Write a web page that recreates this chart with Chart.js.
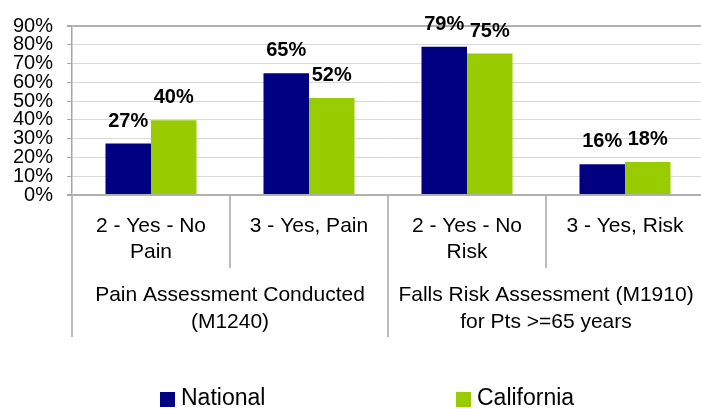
<!DOCTYPE html>
<html>
<head>
<meta charset="utf-8">
<script src="https://cdn.jsdelivr.net/npm/chart.js@4/dist/chart.umd.min.js"></script>
<style>
  html, body { margin: 0; padding: 0; background: #fff; overflow: hidden; }
</style>
</head>
<body>
<canvas id="myChart" width="704" height="409"></canvas>
<script>
// sub categories (line-broken as in the picture) and their groups
const subLabels = [
  ['2 - Yes - No', 'Pain'],
  ['3 - Yes, Pain'],
  ['2 - Yes - No', 'Risk'],
  ['3 - Yes, Risk']
];
const groupLabels = [
  ['Pain Assessment Conducted', '(M1240)'],
  ['Falls Risk Assessment (M1910)', 'for Pts >=65 years']
];
const seriesNames = ['National', 'California'];
const seriesColors = ['#000080', '#99cc00'];
const nationalValues = [27.4, 64.9, 78.9, 16.4];
const californiaValues = [39.8, 51.6, 75.3, 17.6];
const yTicks = [0, 10, 20, 30, 40, 50, 60, 70, 80, 90];

const FONT = '"Liberation Sans", Arial, sans-serif';
const LINE = '#a6a6a6';

// draws the value labels, the two level category axis and the legend
const extras = {
  id: 'extras',
  afterDatasetsDraw(chart) {
    const ctx = chart.ctx;
    const area = chart.chartArea;
    const w = (area.right - area.left) / subLabels.length;

    // value labels
    ctx.save();
    ctx.fillStyle = '#000';
    ctx.font = 'bold 20px ' + FONT;
    ctx.textAlign = 'center';
    ctx.textBaseline = 'alphabetic';
    chart.data.datasets.forEach((ds, di) => {
      chart.getDatasetMeta(di).data.forEach((bar, i) => {
        ctx.fillText(Math.round(ds.data[i]) + '%', bar.x, bar.y - 17);
      });
    });
    ctx.restore();

    // separators
    ctx.save();
    ctx.strokeStyle = LINE;
    ctx.lineWidth = 1.5;
    for (let i = 0; i <= subLabels.length; i++) {
      const x = Math.round(area.left + i * w);
      const bottom = (i % 2 === 0) ? 337 : 268;
      ctx.beginPath();
      ctx.moveTo(x, area.bottom);
      ctx.lineTo(x, bottom);
      ctx.stroke();
    }
    ctx.restore();

    // category text
    ctx.save();
    ctx.fillStyle = '#000';
    ctx.font = '21px ' + FONT;
    ctx.textAlign = 'center';
    ctx.textBaseline = 'middle';
    subLabels.forEach((lines, i) => {
      const cx = area.left + (i + 0.5) * w;
      lines.forEach((t, k) => ctx.fillText(t, cx, 226 + k * 26));
    });
    groupLabels.forEach((lines, g) => {
      const cx = area.left + (2 * g + 1) * w;
      lines.forEach((t, k) => ctx.fillText(t, cx, 295 + k * 27));
    });
    ctx.restore();

    // legend
    ctx.save();
    ctx.font = '23px ' + FONT;
    ctx.textBaseline = 'middle';
    const legendX = [160, 456];
    seriesNames.forEach((name, i) => {
      ctx.fillStyle = seriesColors[i];
      ctx.fillRect(legendX[i], 392, 15, 15);
      ctx.fillStyle = '#000';
      ctx.fillText(name, legendX[i] + 21, 399);
    });
    ctx.restore();
  }
};

const ctx = document.getElementById('myChart').getContext('2d');
const chart = new Chart(ctx, {
  type: 'bar',
  data: {
    labels: subLabels.map(l => l.join(' ')),
    datasets: [
      { label: seriesNames[0], data: nationalValues, backgroundColor: seriesColors[0] },
      { label: seriesNames[1], data: californiaValues, backgroundColor: seriesColors[1] }
    ]
  },
  options: {
    responsive: false,
    animation: false,
    layout: { padding: { top: 24, bottom: 214, left: 0, right: 0 } },
    datasets: {
      bar: { categoryPercentage: 0.576, barPercentage: 1.0 }
    },
    plugins: {
      legend: { display: false },
      tooltip: { enabled: false }
    },
    scales: {
      x: {
        display: false
      },
      y: {
        min: 0,
        max: 90,
        afterBuildTicks: (s) => { s.ticks = yTicks.map(v => ({ value: v })); },
        afterFit: (s) => { s.width = 72; },
        border: { color: LINE, width: 1.5 },
        grid: {
          color: (c) => (c.tick && (c.tick.value === 0 || c.tick.value === 90)) ? '#b0b0b0' : '#d9d9d9',
          lineWidth: (c) => (c.tick && (c.tick.value === 0 || c.tick.value === 90)) ? 2 : 1,
          tickColor: LINE,
          tickLength: 5
        },
        ticks: {
          autoSkip: false,
          padding: 14,
          color: '#000',
          font: { family: FONT, size: 20 },
          callback: (v) => v + '%'
        }
      }
    }
  },
  plugins: [extras]
});
</script>
</body>
</html>
